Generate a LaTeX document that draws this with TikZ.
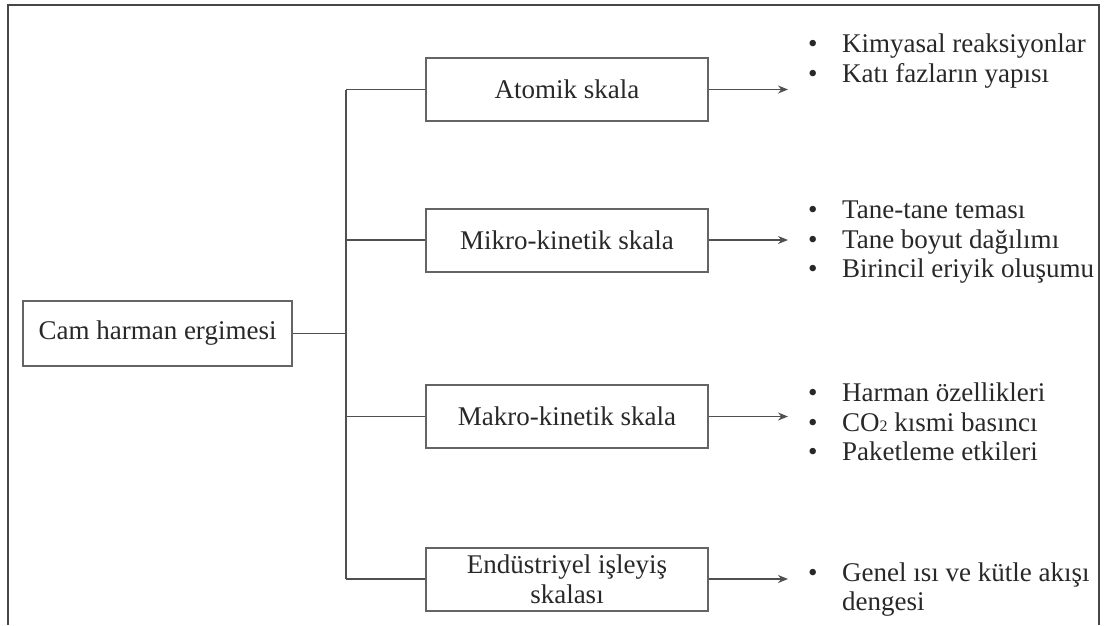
\documentclass[tikz,border=0pt]{standalone}
\usepackage{fontspec}
\setmainfont{Liberation Serif}
\usetikzlibrary{arrows.meta}
\definecolor{boxgray}{RGB}{100,100,100}
\definecolor{linegray}{RGB}{80,80,80}
\definecolor{txt}{RGB}{40,40,40}
\definecolor{framecol}{RGB}{70,70,70}
\begin{document}
\begin{tikzpicture}[x=1pt,y=-1pt,
  box/.style={draw=boxgray, line width=2pt, minimum width=282pt, minimum height=63pt, inner sep=0pt, align=center, text=txt, font=\fontsize{27}{30}\selectfont},
  conn/.style={draw=linegray, line width=1.8pt},
  arr/.style={conn, -{Stealth[length=10pt,width=8pt]}},
  blist/.style={anchor=west, inner sep=0pt, text=txt, font=\fontsize{27}{29.5}\selectfont}]
\useasboundingbox (0,0) rectangle (1105,625);
% outer frame
\draw[framecol, line width=1.8pt] (8,625) -- (8,5) -- (1099,5) -- (1099,625);
% nodes
\node[box, minimum width=269pt, minimum height=65pt] (root) at (157.5,333.5) {Cam harman ergimesi};
\node[box] (A) at (567,89.5) {Atomik skala};
\node[box] (M) at (567,240) {Mikro-kinetik skala};
\node[box] (K) at (567,416.5) {Makro-kinetik skala};
\node[box] (E) at (567,579) {Endüstriyel işleyiş\\skalası};
\coordinate (tr) at (346,0);
\coordinate (tip) at (788,0);
% lists
\node[blist] (LA) at (808,61.6) {\begin{tabular}{@{}l@{\hspace{24.5pt}}l@{}}\textbullet & Kimyasal reaksiyonlar\\ \textbullet & Katı fazların yapısı\end{tabular}};
\node[blist] (LM) at (808,242.1) {\begin{tabular}{@{}l@{\hspace{24.5pt}}l@{}}\textbullet & Tane-tane teması\\ \textbullet & Tane boyut dağılımı\\ \textbullet & Birincil eriyik oluşumu\end{tabular}};
\node[blist] (LK) at (808,425.1) {\begin{tabular}{@{}l@{\hspace{24.5pt}}l@{}}\textbullet & Harman özellikleri\\ \textbullet & CO{\fontsize{16}{16}\selectfont\raisebox{-0.5pt}{2}} kısmi basıncı\\ \textbullet & Paketleme etkileri\end{tabular}};
\node[blist] (LE) at (808,590.1) {\begin{tabular}{@{}l@{\hspace{24.5pt}}l@{}}\textbullet & Genel ısı ve kütle akışı\\ & dengesi\end{tabular}};
% connectors
\draw[conn] (root.east) -- (root.east -| tr);
\draw[conn] (A.west -| tr) -- (E.west -| tr);
\draw[conn] (A.west -| tr) -- (A.west);
\draw[conn] (M.west -| tr) -- (M.west);
\draw[conn] (K.west -| tr) -- (K.west);
\draw[conn] (E.west -| tr) -- (E.west);
\draw[arr] (A.east) -- (A.east -| tip);
\draw[arr] (M.east) -- (M.east -| tip);
\draw[arr] (K.east) -- (K.east -| tip);
\draw[arr] (E.east) -- (E.east -| tip);
\end{tikzpicture}
\end{document}
